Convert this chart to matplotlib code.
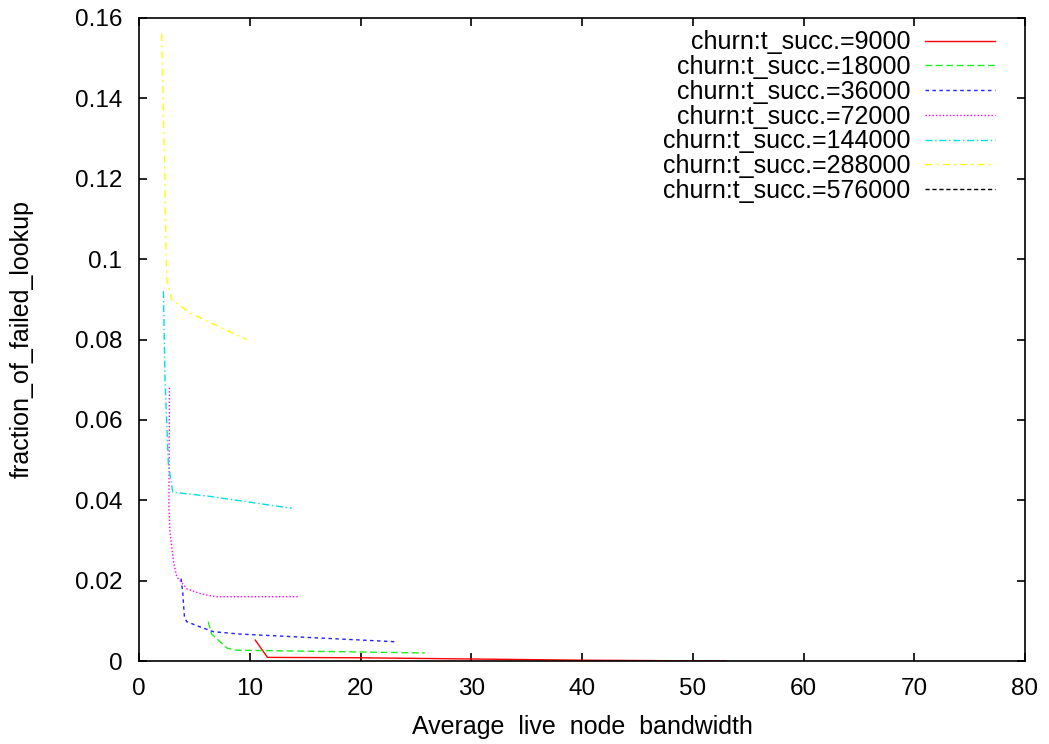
import matplotlib
matplotlib.use("Agg")
import matplotlib.pyplot as plt

plt.rcParams['font.family'] = ['Liberation Sans', 'DejaVu Sans']

labels = ["churn:t_succ.=9000", "churn:t_succ.=18000", "churn:t_succ.=36000",
          "churn:t_succ.=72000", "churn:t_succ.=144000", "churn:t_succ.=288000",
          "churn:t_succ.=576000"]

x_9000 = [10.5, 11.6, 20, 30, 40, 53]
y_9000 = [0.0052, 0.0009, 0.0008, 0.0005, 0.0002, 0.0]

x_18000 = [6.25, 6.55, 7.96, 8.66, 25.8]
y_18000 = [0.0098, 0.0067, 0.0032, 0.0027, 0.0020]

x_36000 = [3.8, 3.95, 4.1, 4.3, 5.5, 6.7, 9.1, 23.1]
y_36000 = [0.0205, 0.017, 0.011, 0.0098, 0.0085, 0.0073, 0.0067, 0.0048]

x_72000 = [2.75, 2.7, 2.8, 3.1, 3.4, 4.3, 5.5, 6.9, 14.5]
y_72000 = [0.068, 0.038, 0.032, 0.025, 0.021, 0.018, 0.0168, 0.016, 0.016]

x_144000 = [2.2, 2.35, 2.65, 3.05, 6.3, 13.8]
y_144000 = [0.092, 0.070, 0.049, 0.042, 0.041, 0.038]

x_288000 = [2.05, 2.35, 2.5, 2.95, 4.6, 9.7]
y_288000 = [0.156, 0.118, 0.095, 0.090, 0.0866, 0.080]

x_576000 = []
y_576000 = []

xs = [x_9000, x_18000, x_36000, x_72000, x_144000, x_288000, x_576000]
ys = [y_9000, y_18000, y_36000, y_72000, y_144000, y_288000, y_576000]
colors = ['#ff0000', '#20f020', '#2020ff', '#ff00ff', '#00e0e0', '#ffff00', '#000000']
styles = ['-', (0, (5, 2.5)), (0, (2.5, 2.5)), (0, (1, 1.5)),
          (0, (5, 2, 1, 2)), (0, (5, 3, 1.5, 3)), (0, (3, 2))]

fig = plt.figure(figsize=(10.49, 7.44), dpi=100)
ax = fig.add_axes([139/1049, 83/744, (1025-139)/1049, (661-18)/744])

for x, y, c, s, lab in zip(xs, ys, colors, styles, labels):
    ax.plot(x, y, color=c, linestyle=s, linewidth=1.0, label=lab)

ax.set_xlim(0, 80)
ax.set_ylim(0, 0.16)
ax.set_xticks(range(0, 81, 10))
ax.set_yticks([0, 0.02, 0.04, 0.06, 0.08, 0.1, 0.12, 0.14, 0.16])
ax.set_yticklabels(['0', '0.02', '0.04', '0.06', '0.08', '0.1', '0.12', '0.14', '0.16'])

ax.tick_params(direction='in', top=True, right=True, length=6, width=1.2,
               labelsize=17.5, pad=12)
for sp in ax.spines.values():
    sp.set_linewidth(1.2)

ax.set_xlabel('Average  live  node  bandwidth', fontsize=18, labelpad=11)
ax.set_ylabel('fraction_of_failed_lookup', fontsize=18, labelpad=30)

leg = ax.legend(loc='upper right', bbox_to_anchor=(0.986, 1.008), frameon=False,
                markerfirst=False, fontsize=18, handlelength=2.8,
                handletextpad=0.6, labelspacing=0.03, borderpad=0.2)

fig.savefig('out.png', dpi=100)
